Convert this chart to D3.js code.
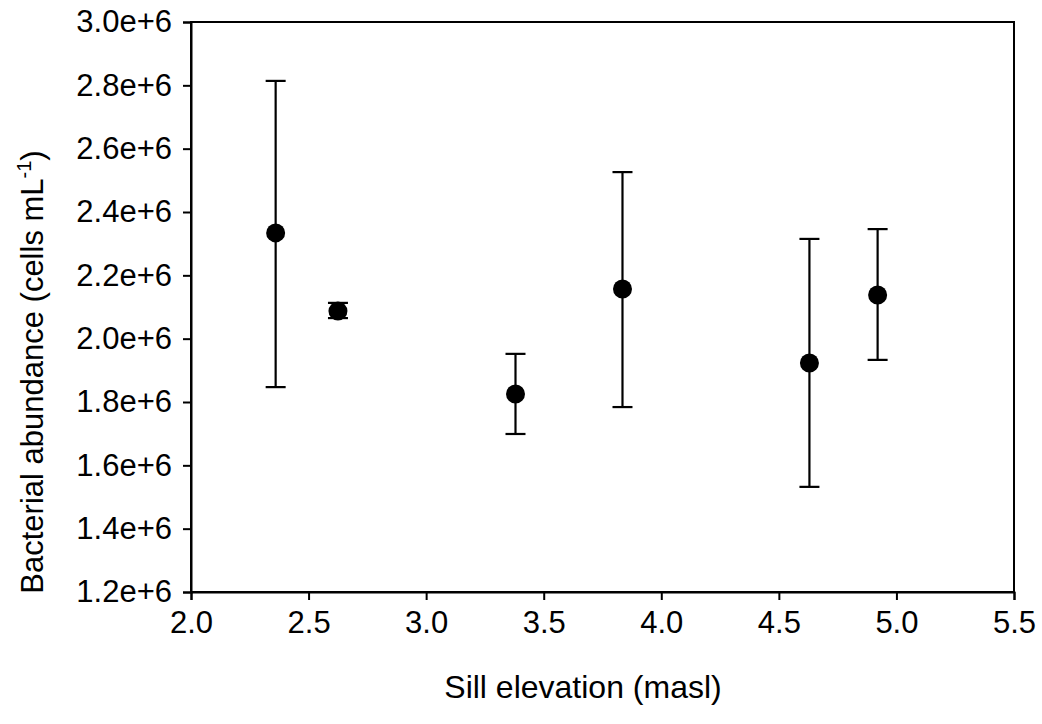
<!DOCTYPE html>
<html>
<head>
<meta charset="utf-8">
<script src="https://cdn.jsdelivr.net/npm/d3@7"></script>
<style>
    body { margin: 0; background: #fff; }
    svg { display: block; font-family: "Liberation Sans", Arial, sans-serif; }
</style>
</head>
<body>
<svg id="chart" width="1042" height="724"></svg>
<script>
// sill elevation (masl) and bacterial abundance (cells/mL), with error bar ends
const elevation = [2.36, 2.625, 3.38, 3.835, 4.63, 4.92];
const abundance = [2.334e6, 2.087e6, 1.825e6, 2.157e6, 1.923e6, 2.138e6];
const errHigh = [2.814e6, 2.113e6, 1.952e6, 2.526e6, 2.315e6, 2.346e6];
const errLow = [1.847e6, 2.065e6, 1.699e6, 1.784e6, 1.532e6, 1.933e6];

const xTicks = [2.0, 2.5, 3.0, 3.5, 4.0, 4.5, 5.0, 5.5];
const yTicks = [1.2e6, 1.4e6, 1.6e6, 1.8e6, 2.0e6, 2.2e6, 2.4e6, 2.6e6, 2.8e6, 3.0e6];
const yTickLabels = ["1.2e+6", "1.4e+6", "1.6e+6", "1.8e+6", "2.0e+6", "2.2e+6", "2.4e+6", "2.6e+6", "2.8e+6", "3.0e+6"];

const svg = d3.select("#chart");
const margin = { top: 22, right: 28, bottom: 132, left: 191 };
const width = 1042 - margin.left - margin.right;
const height = 724 - margin.top - margin.bottom;

const g = svg.append("g").attr("transform", `translate(${margin.left},${margin.top})`);

const x = d3.scaleLinear().domain([2.0, 5.5]).range([0, width]);
const y = d3.scaleLinear().domain([1.2e6, 3.0e6]).range([height, 0]);

const data = elevation.map((e, i) => ({
    x: e, y: abundance[i], hi: errHigh[i], lo: errLow[i]
}));

// Frame (top and right sides, no ticks)
g.append("rect")
    .attr("width", width)
    .attr("height", height)
    .attr("fill", "none")
    .attr("stroke", "#000")
    .attr("stroke-width", 2);

// X axis
const xAxis = g.append("g")
    .attr("transform", `translate(0,${height})`)
    .call(d3.axisBottom(x).tickValues(xTicks).tickFormat(d3.format(".1f")).tickSize(8).tickPadding(11));

// Y axis
const yAxis = g.append("g")
    .call(d3.axisLeft(y).tickValues(yTicks).tickFormat((d, i) => yTickLabels[i]).tickSize(8).tickPadding(11));

[xAxis, yAxis].forEach(ax => {
    ax.select(".domain").attr("stroke-width", 2);
    ax.selectAll(".tick line").attr("stroke-width", 2);
    ax.selectAll("text").attr("fill", "#000").style("font-size", "31px");
});

// Error bars
const capW = 10;
const bars = g.selectAll(".err")
    .data(data)
    .enter()
    .append("g")
    .attr("class", "err")
    .attr("stroke", "#000")
    .attr("stroke-width", 2.2);

bars.append("line")
    .attr("x1", d => x(d.x))
    .attr("x2", d => x(d.x))
    .attr("y1", d => y(d.hi))
    .attr("y2", d => y(d.lo));

bars.append("line")
    .attr("x1", d => x(d.x) - capW)
    .attr("x2", d => x(d.x) + capW)
    .attr("y1", d => y(d.hi))
    .attr("y2", d => y(d.hi));

bars.append("line")
    .attr("x1", d => x(d.x) - capW)
    .attr("x2", d => x(d.x) + capW)
    .attr("y1", d => y(d.lo))
    .attr("y2", d => y(d.lo));

// Points
g.selectAll(".dot")
    .data(data)
    .enter()
    .append("circle")
    .attr("cx", d => x(d.x))
    .attr("cy", d => y(d.y))
    .attr("r", 9.5)
    .attr("fill", "#000");

// Axis titles
svg.append("text")
    .attr("x", 583)
    .attr("y", 698)
    .attr("text-anchor", "middle")
    .style("font-size", "32px")
    .text("Sill elevation (masl)");

const yTitle = svg.append("text")
    .attr("transform", "translate(43,372) rotate(-90)")
    .attr("text-anchor", "middle")
    .style("font-size", "31px");
yTitle.append("tspan").text("Bacterial abundance (cells mL");
yTitle.append("tspan").attr("dy", -12).style("font-size", "20px").text("-1");
yTitle.append("tspan").attr("dy", 12).text(")");
</script>
</body>
</html>
